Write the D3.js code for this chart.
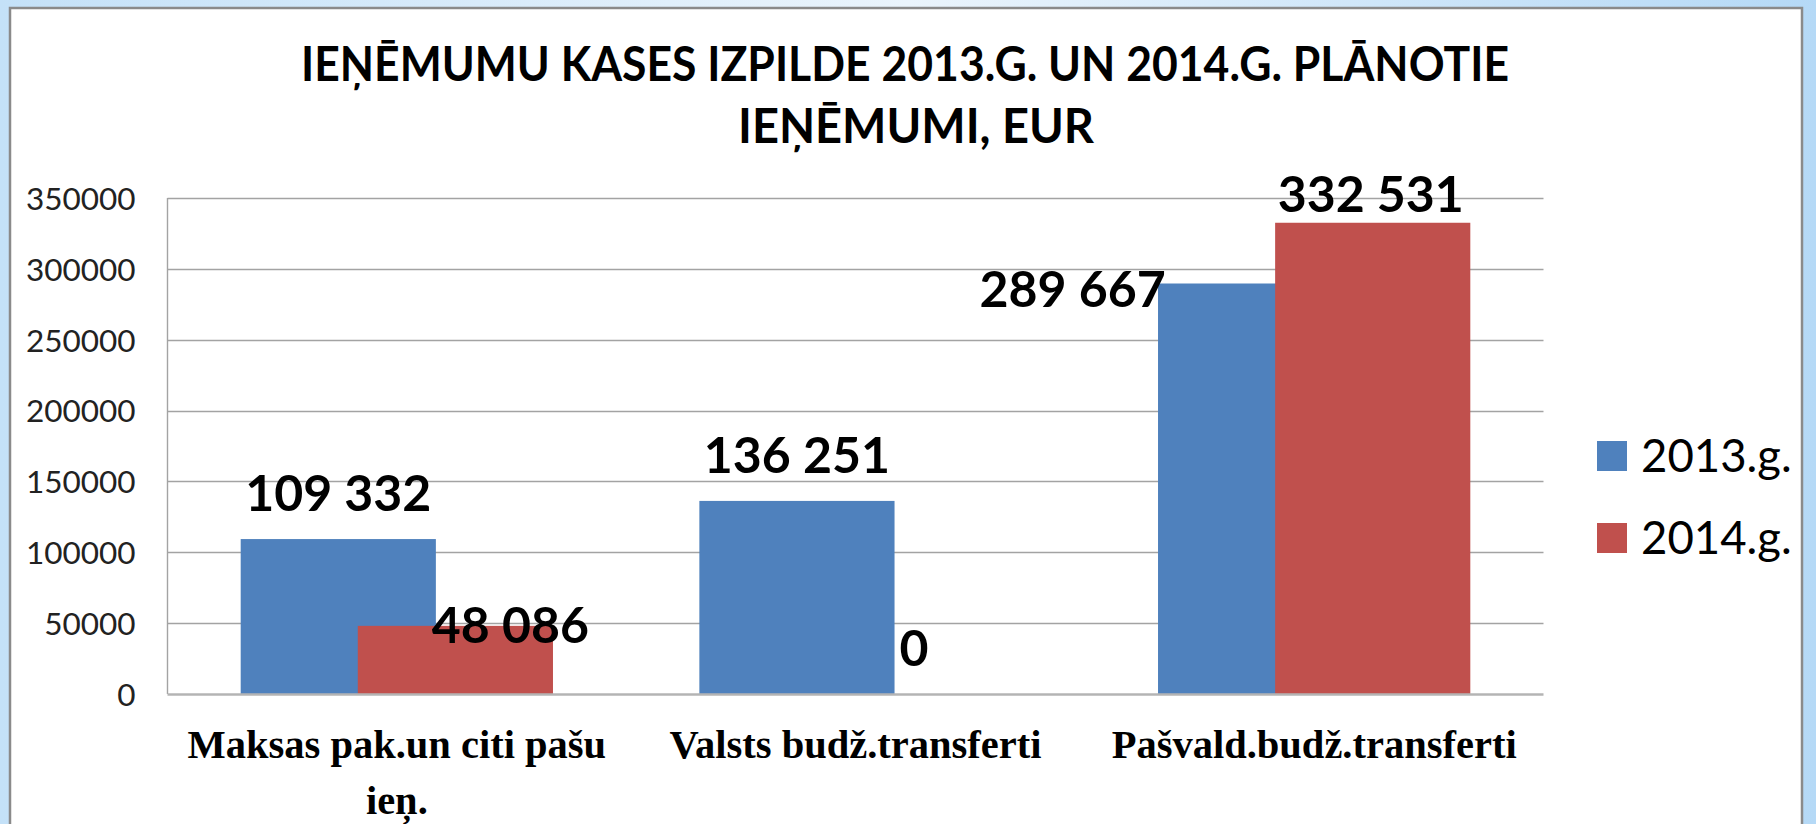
<!DOCTYPE html>
<html>
<head>
<meta charset="utf-8">
<script src="https://cdn.jsdelivr.net/npm/d3@7"></script>
<style>
  html, body { margin: 0; padding: 0; background: #fff; }
  svg { display: block; }
</style>
</head>
<body>
<svg id="chart" width="1816" height="824"></svg>
<script>
// ---------------- data ----------------
const titleLines = ["IEŅĒMUMU KASES IZPILDE 2013.G. UN 2014.G. PLĀNOTIE", "IEŅĒMUMI, EUR"];
const categories = ["Maksas pak.un citi pašu ieņ.", "Valsts budž.transferti", "Pašvald.budž.transferti"];
const seriesNames = ["2013.g.", "2014.g."];
const values2013 = [109332, 136251, 289667];
const values2014 = [48086, 0, 332531];
const yTicks = [0, 50000, 100000, 150000, 200000, 250000, 300000, 350000];

// ---------------- layout ----------------
const W = 1816, H = 824;
const plot = { left: 167.5, right: 1543.5, top: 198, bottom: 694 };
const colors = ["#4F81BD", "#C0504D"];
const gapWidth = 0.75, overlap = 0.40;

const svg = d3.select("#chart");

// background frame
const defs = svg.append("defs");
const g1 = defs.append("linearGradient").attr("id", "bgGrad").attr("x1", "0").attr("y1", "0").attr("x2", "1").attr("y2", "0");
g1.append("stop").attr("offset", "0").attr("stop-color", "#C4E1F8");
g1.append("stop").attr("offset", "0.5").attr("stop-color", "#EAF4FC");
g1.append("stop").attr("offset", "1").attr("stop-color", "#B5D9F6");
svg.append("rect").attr("width", W).attr("height", H).attr("fill", "url(#bgGrad)");
svg.append("rect").attr("x", 10).attr("y", 8).attr("width", 1792).attr("height", H + 10)
  .attr("fill", "#fff").attr("stroke", "#8a8a8a").attr("stroke-width", 2.5);

// scales
const y = d3.scaleLinear().domain([0, 350000]).range([plot.bottom, plot.top]);
const x = d3.scaleBand().domain(categories).range([plot.left, plot.right]).paddingInner(0).paddingOuter(0);
const barW = x.bandwidth() / (1 + (1 - overlap) + gapWidth);
const step = barW * (1 - overlap);
const barX = (c, i) => x(c) + barW * gapWidth / 2 + i * step;

// gridlines
svg.append("g").selectAll("line").data(yTicks.filter(t => t > 0)).join("line")
  .attr("x1", plot.left).attr("x2", plot.right)
  .attr("y1", d => Math.round(y(d)) + 0.5).attr("y2", d => Math.round(y(d)) + 0.5)
  .attr("stroke", "#a3a3a3").attr("stroke-width", 1.4);

// left vertical line
svg.append("line").attr("x1", plot.left).attr("x2", plot.left)
  .attr("y1", plot.top).attr("y2", plot.bottom).attr("stroke", "#a3a3a3").attr("stroke-width", 1.4);

// y axis
const yAxis = d3.axisLeft(y).tickValues(yTicks).tickSize(0).tickPadding(32).tickFormat(d3.format("d"));
const ya = svg.append("g").attr("transform", `translate(${plot.left},0)`).call(yAxis);
ya.select(".domain").remove();
ya.selectAll("text").attr("font-family", "Lato").attr("font-size", 31.5).attr("fill", "#222").attr("dy", "0.36em");

// bars
const seriesVals = [values2013, values2014];
seriesVals.forEach((vals, si) => {
  svg.append("g").selectAll("rect").data(categories).join("rect")
    .attr("x", (c) => barX(c, si))
    .attr("width", barW)
    .attr("y", (c, i) => y(vals[i]))
    .attr("height", (c, i) => y(0) - y(vals[i]))
    .attr("fill", colors[si]);
});

// x axis line
svg.append("line").attr("x1", plot.left).attr("x2", plot.right)
  .attr("y1", plot.bottom + 0.5).attr("y2", plot.bottom + 0.5)
  .attr("stroke", "#b4b4b4").attr("stroke-width", 2.5);

// data labels (manual nudges as in the original)
const nudge = { "1-0": [55, 45], "0-2": [-183, 51], "1-2": [-2, 17] };
const fmt = v => d3.format(",")(v).replace(/,/g, " ");
seriesVals.forEach((vals, si) => {
  svg.append("g").selectAll("text").data(categories).join("text")
    .attr("x", (c, i) => barX(c, si) + barW / 2 + ((nudge[si + "-" + i] || [0, 0])[0]))
    .attr("y", (c, i) => y(vals[i]) - 28 + ((nudge[si + "-" + i] || [0, 0])[1]))
    .attr("text-anchor", "middle")
    .attr("font-family", "Lato").attr("font-weight", 700).attr("font-size", 50).attr("fill", "#000")
    .text((c, i) => fmt(vals[i]));
});

// category labels (wrapped)
const catG = svg.append("g");
categories.forEach(c => {
  const cx = x(c) + x.bandwidth() / 2;
  const t = catG.append("text").attr("x", cx).attr("y", 758)
    .attr("text-anchor", "middle").attr("font-family", "Liberation Serif").attr("font-weight", 700)
    .attr("font-size", 40.5).attr("fill", "#000");
  const words = c.split(" ");
  let line = [];
  let ts = t.append("tspan").attr("x", cx).attr("dy", 0);
  words.forEach(w => {
    line.push(w);
    ts.text(line.join(" "));
    if (ts.node().getComputedTextLength() > 440 && line.length > 1) {
      line.pop(); ts.text(line.join(" "));
      line = [w];
      ts = t.append("tspan").attr("x", cx).attr("dy", 56).text(w);
    }
  });
});

// title
const titleCx = [905, 916];
const titleW = [1208, 356];
titleLines.forEach((l, i) => {
  svg.append("text").attr("x", titleCx[i]).attr("y", 81 + i * 62)
    .attr("text-anchor", "middle").attr("font-family", "Lato").attr("font-weight", 700)
    .attr("font-size", 47).attr("fill", "#000")
    .attr("textLength", titleW[i]).attr("lengthAdjust", "spacingAndGlyphs")
    .text(l);
});

// legend
const leg = svg.append("g");
seriesNames.forEach((s, i) => {
  const cy = 456 + i * 82;
  leg.append("rect").attr("x", 1597).attr("y", cy - 15).attr("width", 30).attr("height", 30).attr("fill", colors[i]);
  leg.append("text").attr("x", 1641).attr("y", cy + 16)
    .attr("font-family", "Lato").attr("font-size", 45.5).attr("fill", "#000").text(s);
});
</script>
</body>
</html>
